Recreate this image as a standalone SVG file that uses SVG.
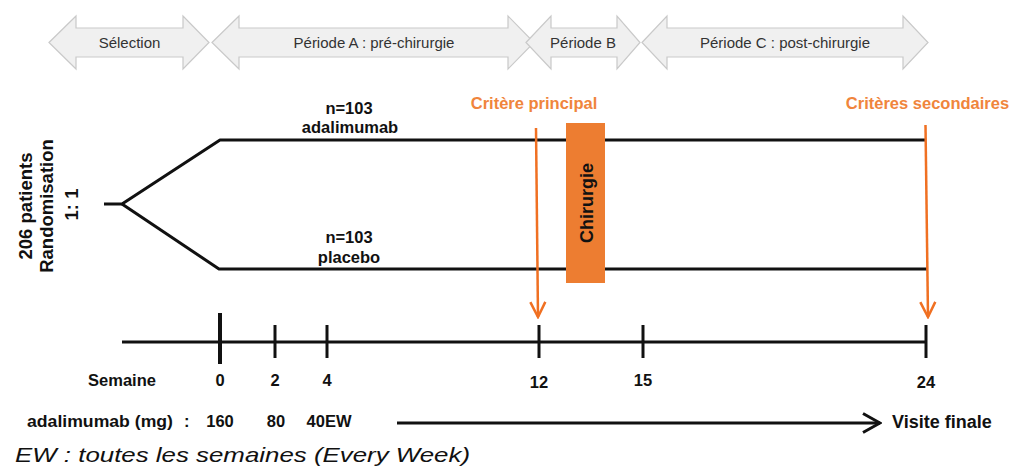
<svg xmlns="http://www.w3.org/2000/svg" width="1013" height="468" viewBox="0 0 1013 468">
  <style>
    .period { fill: #f0f0f0; stroke: #c9c9c9; stroke-width: 1.2; }
    .ptext { font-family: "Liberation Sans", Arial, sans-serif; font-size: 15px; fill: #333333; text-anchor: middle; }
    .b { font-family: "Liberation Sans", Arial, sans-serif; font-weight: bold; font-size: 16.5px; fill: #111111; text-anchor: middle; }
    .side { font-family: "Liberation Sans", Arial, sans-serif; font-weight: bold; font-size: 18.5px; fill: #111111; text-anchor: middle; }
    .orange { font-family: "Liberation Sans", Arial, sans-serif; font-weight: bold; font-size: 16.5px; fill: #f0853c; text-anchor: middle; }
    .arm { fill: none; stroke: #111111; stroke-width: 3; stroke-linejoin: round; }
    .axis { fill: none; stroke: #111111; stroke-width: 3; }
    .tick { stroke: #111111; stroke-width: 3; }
    .oarrow { fill: none; stroke: #f07022; stroke-width: 2.5; }
    .note { font-family: "Liberation Sans", Arial, sans-serif; font-style: italic; font-size: 21px; fill: #111111; }
  </style>
  <defs>
    <marker id="headOrange" viewBox="0 0 18 18" refX="16" refY="9" markerWidth="18" markerHeight="18" markerUnits="userSpaceOnUse" orient="auto">
      <path d="M1,1.5 L16,9 L1,16.5" fill="none" stroke="#f07022" stroke-width="2.5"/>
    </marker>
    <marker id="headBlack" viewBox="0 0 20 22" refX="18" refY="11" markerWidth="20" markerHeight="22" markerUnits="userSpaceOnUse" orient="auto">
      <path d="M1,1.5 L18,11 L1,20.5" fill="none" stroke="#111111" stroke-width="3"/>
    </marker>
  </defs>

  <rect width="1013" height="468" fill="#ffffff"/>

  <!-- Period arrows -->
  <g id="period-selection">
    <polygon class="period" points="49,42.5 76,16 76,28 183,28 183,16 209,42.5 183,69 183,57 76,57 76,69"/>
    <text class="ptext" x="129.5" y="47.5">Sélection</text>
  </g>
  <g id="period-a">
    <polygon class="period" points="212,42.5 239,16 239,28 508,28 508,16 534,42.5 508,69 508,57 239,57 239,69"/>
    <text class="ptext" x="374" y="47.5">Période A : pré-chirurgie</text>
  </g>
  <g id="period-b">
    <polygon class="period" points="526,42.5 551,16 551,28 617,28 617,16 640,42.5 617,69 617,57 551,57 551,69"/>
    <text class="ptext" x="583" y="47.5">Période B</text>
  </g>
  <g id="period-c">
    <polygon class="period" points="642,42.5 667,16 667,28 903,28 903,16 928,42.5 903,69 903,57 667,57 667,69"/>
    <text class="ptext" x="785" y="47.5">Période C : post-chirurgie</text>
  </g>

  <!-- Randomisation label -->
  <g id="randomisation">
    <text class="side" transform="translate(32,206) rotate(-90)">206 patients</text>
    <text class="side" transform="translate(53,206) rotate(-90)">Randomisation</text>
    <text class="side" transform="translate(78,204.5) rotate(-90)">1: 1</text>
  </g>

  <!-- Connectors -->
  <g id="connectors">
    <polyline class="arm" points="104,204 122,204 220,140 926,140"/>
    <polyline class="arm" points="122,204 219,269 928,269"/>
    <line class="oarrow" x1="536" y1="128" x2="538" y2="317" marker-end="url(#headOrange)"/>
    <line class="oarrow" x1="925.5" y1="125" x2="928" y2="317" marker-end="url(#headOrange)"/>
    <line class="axis" x1="397" y1="423" x2="880" y2="423" marker-end="url(#headBlack)"/>
  </g>

  <!-- Arm labels -->
  <g id="arm-adalimumab">
    <text class="b" x="349" y="114">n=103</text>
    <text class="b" x="350" y="133">adalimumab</text>
  </g>
  <g id="arm-placebo">
    <text class="b" x="349" y="243">n=103</text>
    <text class="b" x="349" y="263">placebo</text>
  </g>

  <!-- Surgery box -->
  <g id="chirurgie">
    <rect x="566" y="123" width="39" height="160" fill="#ed7d31"/>
    <text class="b" style="font-size:18px" transform="translate(593,203) rotate(-90)">Chirurgie</text>
  </g>

  <!-- Criteria -->
  <g id="critere-principal">
    <text class="orange" x="534" y="108.5">Critère principal</text>
  </g>
  <g id="criteres-secondaires">
    <text class="orange" x="927.5" y="109">Critères secondaires</text>
  </g>

  <!-- Timeline -->
  <g id="timeline">
    <line class="axis" x1="122" y1="342" x2="926" y2="342"/>
    <line class="tick" style="stroke-width:4" x1="220" y1="313" x2="220" y2="364"/>
    <line class="tick" x1="275" y1="325" x2="275" y2="358"/>
    <line class="tick" x1="327" y1="325" x2="327" y2="358"/>
    <line class="tick" x1="539" y1="325" x2="539" y2="358"/>
    <line class="tick" x1="643" y1="325" x2="643" y2="358"/>
    <line class="tick" x1="926" y1="325" x2="926" y2="358"/>
  </g>
  <g id="semaine">
    <text class="b" x="122" y="386">Semaine</text>
    <text class="b" x="220" y="386">0</text>
    <text class="b" x="275" y="386">2</text>
    <text class="b" x="327" y="386">4</text>
    <text class="b" x="539" y="388">12</text>
    <text class="b" x="643" y="386">15</text>
    <text class="b" x="926" y="388">24</text>
  </g>
  <g id="dose">
    <text class="b" x="27" y="427" style="text-anchor:start;font-size:17px" textLength="146" lengthAdjust="spacingAndGlyphs">adalimumab (mg)</text>
    <text class="b" x="184" y="427" style="text-anchor:start">:</text>
    <text class="b" x="220" y="427">160</text>
    <text class="b" x="276" y="427">80</text>
    <text class="b" x="329" y="427">40EW</text>
  </g>
  <g id="visite-finale">
    <text class="b" x="892" y="428" style="text-anchor:start;font-size:18px">Visite finale</text>
  </g>
  <g id="legend">
    <text class="note" x="15" y="462" textLength="455" lengthAdjust="spacingAndGlyphs">EW : toutes les semaines (Every Week)</text>
  </g>
</svg>
